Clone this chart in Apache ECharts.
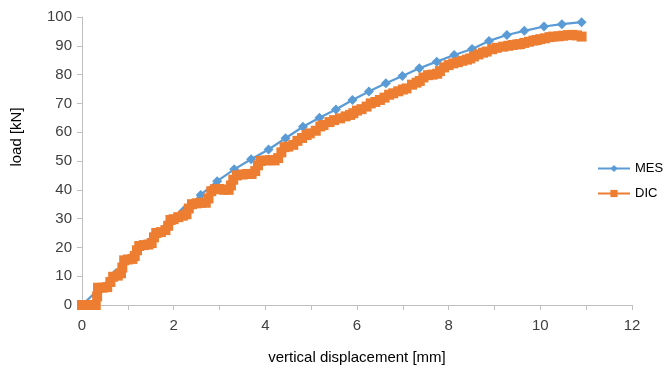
<!DOCTYPE html>
<html>
<head>
<meta charset="utf-8">
<script src="https://cdn.jsdelivr.net/npm/echarts@6/dist/echarts.min.js"></script>
<style>
  html, body { margin: 0; padding: 0; background: #fff; }
  #chart { width: 666px; height: 370px; }
</style>
</head>
<body>
<div id="chart"></div>
<script>
// MES readings [displacement mm, load kN]
const mesData = [
  [0, 0], [0.37, 5.5], [0.74, 11], [1.11, 16.5], [1.48, 22], [1.85, 27.3],
  [2.22, 32.8], [2.59, 38.2], [2.95, 43], [3.32, 47.1], [3.69, 50.6],
  [4.07, 54.0], [4.44, 57.9], [4.82, 61.9], [5.18, 65.0], [5.54, 67.9],
  [5.90, 71.2], [6.26, 74.1], [6.63, 77.0], [6.99, 79.5], [7.36, 82.2],
  [7.74, 84.5], [8.12, 86.8], [8.51, 88.9], [8.88, 91.7], [9.27, 93.75],
  [9.65, 95.2], [10.08, 96.7], [10.47, 97.5], [10.90, 98.2]
];

// DIC readings [displacement mm, load kN]
const dicData = [
  [0, 0], [0.1, 0], [0.2, 0], [0.3, 0], [0.33, 3], [0.35, 6], [0.45, 6],
  [0.55, 6.2], [0.62, 8], [0.68, 9.8], [0.78, 10.2], [0.85, 11], [0.88, 13],
  [0.92, 15.5], [1.0, 15.8], [1.1, 16], [1.15, 17], [1.2, 19], [1.25, 20.5],
  [1.35, 20.8], [1.45, 21], [1.52, 21.5], [1.57, 23.5], [1.62, 25],
  [1.72, 25.3], [1.82, 26], [1.88, 27.5], [1.93, 29.5], [2.0, 29.8],
  [2.1, 30.5], [2.2, 31], [2.28, 31.5], [2.33, 33.5], [2.4, 35], [2.5, 35.3],
  [2.6, 35.5], [2.7, 35.5], [2.76, 37], [2.82, 39.5], [2.9, 40.2], [3.0, 40.3],
  [3.1, 40], [3.2, 40], [3.25, 41.5], [3.3, 43.5], [3.38, 45], [3.5, 45.3],
  [3.6, 45.5], [3.7, 45.5], [3.78, 46.5], [3.84, 48.5], [3.9, 50], [4.0, 50.2],
  [4.1, 50.3], [4.2, 50.2], [4.28, 51], [4.35, 53], [4.42, 54.8], [4.5, 55],
  [4.61, 55.6], [4.7, 57], [4.8, 58], [4.9, 59], [4.97, 59.6], [5.1, 60.5],
  [5.2, 62], [5.27, 62.5], [5.4, 63.5], [5.5, 64.2], [5.63, 64.8], [5.75, 65.5],
  [5.85, 66], [5.92, 66.6], [6.0, 67.5], [6.1, 68], [6.21, 68.9], [6.3, 70],
  [6.4, 70.5], [6.5, 71.2], [6.6, 72], [6.7, 73], [6.79, 73.5], [6.9, 74.2],
  [7.0, 74.8], [7.08, 75.2], [7.2, 76.5], [7.3, 77.2], [7.37, 77.8],
  [7.45, 79], [7.55, 79.8], [7.65, 80], [7.75, 80.3], [7.81, 81.2], [7.9, 82.5],
  [8.0, 83.3], [8.1, 83.9], [8.2, 84.3], [8.3, 84.8], [8.4, 85.2], [8.47, 85.6],
  [8.55, 86.3], [8.65, 87], [8.75, 87.6], [8.83, 88], [8.95, 88.8], [9.05, 89.3],
  [9.19, 89.7], [9.3, 90], [9.4, 90.3], [9.5, 90.5], [9.56, 90.6], [9.65, 91],
  [9.75, 91.4], [9.85, 91.8], [9.92, 92], [10.0, 92.3], [10.1, 92.6],
  [10.2, 93], [10.28, 93.2], [10.4, 93.3], [10.5, 93.5], [10.6, 93.7],
  [10.7, 93.8], [10.8, 93.6], [10.9, 93.2]
];

const seriesNames = ["MES", "DIC"];
const xTitle = "vertical displacement [mm]";
const yTitle = "load [kN]";

const font = "'Liberation Sans', 'Noto Sans', sans-serif";
const axisGrey = "#bfbfbf";
const textGrey = "#404040";

const chart = echarts.init(document.getElementById("chart"), null, { renderer: "canvas" });

chart.setOption({
  animation: false,
  backgroundColor: "#fff",
  grid: { left: 82, right: 34, top: 17, bottom: 65, containLabel: false },
  legend: {
    orient: "vertical",
    left: 592,
    top: 157,
    itemWidth: 32,
    itemHeight: 9,
    itemGap: 12,
    data: seriesNames,
    textStyle: { color: "#000", fontSize: 13, fontFamily: font }
  },
  xAxis: {
    type: "value",
    min: 0,
    max: 12,
    interval: 2,
    name: xTitle,
    nameLocation: "middle",
    nameGap: 45,
    nameTextStyle: { color: "#000", fontSize: 15, fontFamily: font },
    axisLine: { lineStyle: { color: axisGrey, width: 1 } },
    axisTick: { show: true, length: 5, lineStyle: { color: axisGrey } },
    minorTick: { show: true, splitNumber: 2, length: 5, lineStyle: { color: axisGrey } },
    axisLabel: { color: textGrey, fontSize: 15, fontFamily: font, margin: 13 },
    splitLine: { show: false }
  },
  yAxis: {
    type: "value",
    min: 0,
    max: 100,
    interval: 10,
    name: yTitle,
    nameLocation: "middle",
    nameGap: 58,
    nameTextStyle: { color: "#000", fontSize: 15, fontFamily: font, padding: [0, 0, 0, 48] },
    axisLine: { show: true, lineStyle: { color: axisGrey, width: 1 } },
    axisTick: { show: true, length: 5, lineStyle: { color: axisGrey } },
    axisLabel: { color: textGrey, fontSize: 15, fontFamily: font, margin: 10 },
    splitLine: { show: false }
  },
  series: [
    {
      name: seriesNames[0],
      type: "line",
      data: mesData,
      symbol: "diamond",
      symbolSize: 10,
      showAllSymbol: true,
      z: 2,
      lineStyle: { color: "#5b9bd5", width: 2.25 },
      itemStyle: { color: "#5b9bd5" }
    },
    {
      name: seriesNames[1],
      type: "line",
      data: dicData,
      symbol: "rect",
      symbolSize: 10,
      showAllSymbol: true,
      z: 3,
      lineStyle: { color: "#ed7d31", width: 4 },
      itemStyle: { color: "#ed7d31" }
    }
  ]
});
</script>
</body>
</html>
